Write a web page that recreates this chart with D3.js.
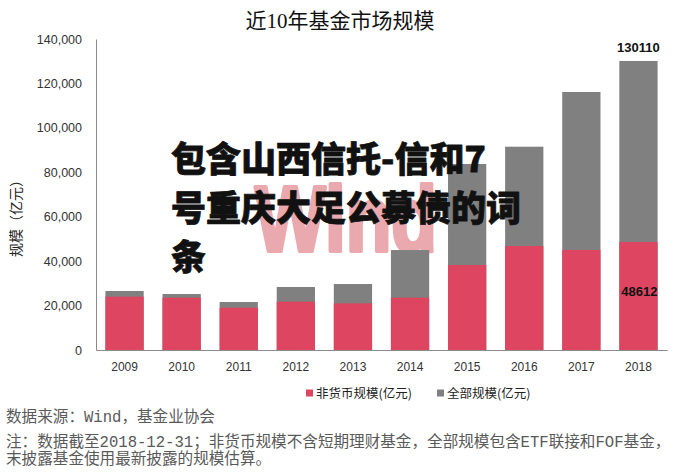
<!DOCTYPE html>
<html>
<head>
<meta charset="utf-8">
<script src="https://cdn.jsdelivr.net/npm/d3@7"></script>
<style>
  body { margin: 0; background: #fff; }
  svg { display: block; }
</style>
</head>
<body>
<div id="chart"></div>
<script>
// data (亿元)
var years = ['2009', '2010', '2011', '2012', '2013', '2014', '2015', '2016', '2017', '2018'];
var nonMoney = [24000, 23550, 19050, 21750, 21000, 23550, 38260, 46820, 45020, 48612];
var total = [26560, 25210, 21600, 28360, 29700, 45000, 83730, 91520, 116140, 130110];
var yTicks = [0, 20000, 40000, 60000, 80000, 100000, 120000, 140000];
var seriesNames = ['非货币规模(亿元)', '全部规模(亿元)'];
var overlayLines = ['包含山西信托-信和7', '号重庆大足公募债的词', '条'];
var notes = [
  '数据来源：Wind，基金业协会',
  '注：数据截至2018-12-31；非货币规模不含短期理财基金，全部规模包含ETF联接和FOF基金，',
  '末披露基金使用最新披露的规模估算。'
];

var width = 686, height = 474;
var red = '#de4560', gray = '#808080';
var cjk = "'Noto Sans CJK SC'";

var svg = d3.select('#chart').append('svg')
    .attr('width', width)
    .attr('height', height);

var x = d3.scaleBand()
    .domain(years)
    .range([96, 667])
    .paddingInner(0.33)
    .paddingOuter(0.165);

var y = d3.scaleLinear()
    .domain([0, 140000])
    .range([350, 39]);

// title
svg.append('text')
    .attr('x', 340)
    .attr('y', 28)
    .attr('text-anchor', 'middle')
    .style('font-family', "'Liberation Serif', " + cjk)
    .style('font-size', '21px')
    .attr('fill', '#111')
    .text('近10年基金市场规模');

// watermark
svg.append('text')
    .attr('x', 255)
    .attr('y', 251)
    .attr('textLength', 182)
    .attr('lengthAdjust', 'spacingAndGlyphs')
    .style('font-family', "'Liberation Sans', sans-serif")
    .style('font-size', '92px')
    .style('font-weight', 'bold')
    .attr('fill', '#eaa9ae')
    .attr('stroke', '#eaa9ae')
    .attr('stroke-width', 4)
    .attr('stroke-linejoin', 'round')
    .text('Wind');

// bars: full size in gray, non money fund part in red on top of it
var bars = svg.append('g');
bars.selectAll('rect.total')
    .data(years)
    .enter()
    .append('rect')
    .attr('class', 'total')
    .attr('x', function(d) { return x(d); })
    .attr('width', x.bandwidth())
    .attr('y', function(d, i) { return y(total[i]); })
    .attr('height', function(d, i) { return y(0) - y(total[i]); })
    .attr('fill', gray);

bars.selectAll('rect.nonmoney')
    .data(years)
    .enter()
    .append('rect')
    .attr('class', 'nonmoney')
    .attr('x', function(d) { return x(d); })
    .attr('width', x.bandwidth())
    .attr('y', function(d, i) { return y(nonMoney[i]); })
    .attr('height', function(d, i) { return y(0) - y(nonMoney[i]); })
    .attr('fill', red);

// y axis
var yAxis = svg.append('g')
    .attr('transform', 'translate(96,0)')
    .call(d3.axisLeft(y).tickValues(yTicks).tickSize(0).tickPadding(14).tickFormat(d3.format(',')));
yAxis.select('.domain').attr('stroke', '#8c8c8c');
yAxis.selectAll('text')
    .style('font-family', "'Liberation Sans', sans-serif")
    .style('font-size', '12.5px')
    .attr('fill', '#333');

// x axis
var xAxis = svg.append('g')
    .attr('transform', 'translate(0,350)')
    .call(d3.axisBottom(x).tickSize(0).tickPadding(12).tickSizeOuter(0));
xAxis.select('.domain').attr('stroke', '#8c8c8c');
xAxis.selectAll('text')
    .style('font-family', "'Liberation Sans', sans-serif")
    .style('font-size', '12px')
    .attr('fill', '#333');

svg.append('text')
    .attr('transform', 'translate(21,215) rotate(-90)')
    .attr('text-anchor', 'middle')
    .style('font-family', cjk)
    .style('font-size', '14px')
    .attr('fill', '#222')
    .text('规模（亿元）');

// value labels for 2018
var last = years.length - 1;
svg.append('text')
    .attr('x', x(years[last]) + x.bandwidth() / 2)
    .attr('y', y(total[last]) - 9)
    .attr('text-anchor', 'middle')
    .style('font-family', "'Liberation Sans', sans-serif")
    .style('font-size', '13px')
    .style('font-weight', 'bold')
    .attr('fill', '#111')
    .text(total[last]);

svg.append('text')
    .attr('x', x(years[last]) + x.bandwidth() / 2 + 1)
    .attr('y', 296)
    .attr('text-anchor', 'middle')
    .style('font-family', "'Liberation Sans', sans-serif")
    .style('font-size', '13px')
    .style('font-weight', 'bold')
    .attr('fill', '#111')
    .text(nonMoney[last]);

// legend
var legend = svg.append('g')
    .attr('transform', 'translate(306,0)');
var legendX = [0, 131];
[red, gray].forEach(function(c, i) {
  legend.append('rect')
      .attr('x', legendX[i])
      .attr('y', 389.5)
      .attr('width', 7)
      .attr('height', 7)
      .attr('fill', c);
  legend.append('text')
      .attr('x', legendX[i] + 10)
      .attr('y', 397.5)
      .style('font-family', cjk)
      .style('font-size', '12.5px')
      .attr('fill', '#222')
      .text(seriesNames[i]);
});

// notes under the chart
var noteY = [422, 447, 464];
notes.forEach(function(t, i) {
  svg.append('text')
      .attr('x', 6)
      .attr('y', noteY[i])
      .style('font-family', "'Liberation Mono', " + cjk)
      .style('font-size', '15.6px')
      .attr('fill', '#595959')
      .text(t);
});

// big overlay caption, lightly stroked to get the heavy look
var overlayY = [172, 221, 270];
overlayLines.forEach(function(t, i) {
  svg.append('text')
      .attr('x', 171)
      .attr('y', overlayY[i])
      .style('font-family', cjk)
      .style('font-size', '35px')
      .style('font-weight', 900)
      .attr('fill', '#111')
      .attr('stroke', '#111')
      .attr('stroke-width', 0.8)
      .attr('stroke-linejoin', 'round')
      .text(t);
});
</script>
</body>
</html>
